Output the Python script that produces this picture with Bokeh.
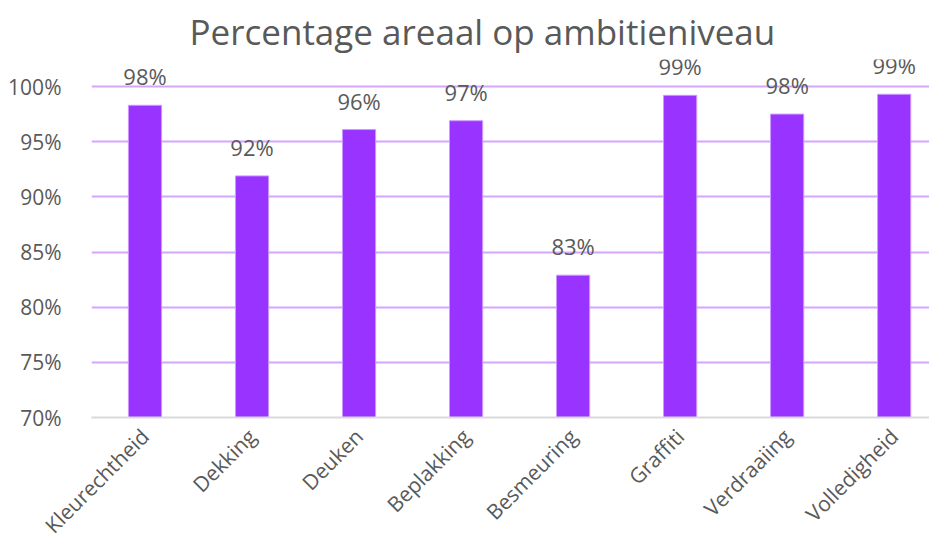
from bokeh.plotting import figure
from bokeh.models import ColumnDataSource, Range1d, FixedTicker, PrintfTickFormatter, Title
from bokeh.embed import file_html
from bokeh.resources import INLINE
from bokeh.core.properties import value
import math

categories = ["Kleurechtheid", "Dekking", "Deuken", "Beplakking", "Besmeuring", "Graffiti", "Verdraaiing", "Volledigheid"]
percentages = [98.3, 91.9, 96.1, 96.9, 82.9, 99.2, 97.5, 99.3]
y_ticks = [70, 75, 80, 85, 90, 95, 100]

FONT = "Open Sans"
TXT = "#595959"

xs = list(range(len(categories)))
labels = [f"{round(v)}%" for v in percentages]
src = ColumnDataSource(dict(x=xs, top=percentages, lab=labels))

p = figure(frame_width=838, frame_height=358, output_backend="svg", toolbar_location=None,
           x_range=Range1d(-0.5, 7.33), y_range=Range1d(70, 102.45),
           min_border_left=91, min_border_right=0, min_border_bottom=120, min_border_top=58,
           outline_line_color=None)

p.title = None
p.add_layout(Title(text="Percentage areaal op ambitieniveau", align="left", offset=98,
                   text_font=FONT, text_font_size="35px", text_color=TXT,
                   text_font_style="normal"), "above")

p.vbar(x="x", top="top", bottom=70, width=0.31, source=src,
       fill_color="#9933FF", line_color="#CC99FF", line_width=1)
p.text(x="x", y="top", text="lab", source=src, text_align="center", text_baseline="bottom",
       y_offset=-14, text_font=value(FONT), text_font_size="22px", text_color=TXT)

p.xaxis.ticker = FixedTicker(ticks=xs)
p.xaxis.major_label_overrides = {i: c for i, c in enumerate(categories)}
p.xaxis.major_label_orientation = math.pi / 4
p.xaxis.major_label_text_font = FONT
p.xaxis.major_label_text_font_size = "21px"
p.xaxis.major_label_text_color = TXT
p.xaxis.axis_line_color = "#D9D9D9"
p.xaxis.axis_line_width = 2
p.xaxis.major_tick_line_color = None
p.xaxis.minor_tick_line_color = None
p.xaxis.major_label_standoff = 9

p.yaxis.ticker = FixedTicker(ticks=y_ticks)
p.yaxis.formatter = PrintfTickFormatter(format="%d%%")
p.yaxis.major_label_text_font = FONT
p.yaxis.major_label_text_font_size = "21px"
p.yaxis.major_label_text_color = TXT
p.yaxis.axis_line_color = None
p.yaxis.major_tick_line_color = None
p.yaxis.minor_tick_line_color = None
p.yaxis.major_label_standoff = 24

p.xgrid.grid_line_color = None
p.ygrid.grid_line_color = "#D4A6FF"
p.ygrid.grid_line_width = 2

open("out.html", "w").write(file_html(p, INLINE))
